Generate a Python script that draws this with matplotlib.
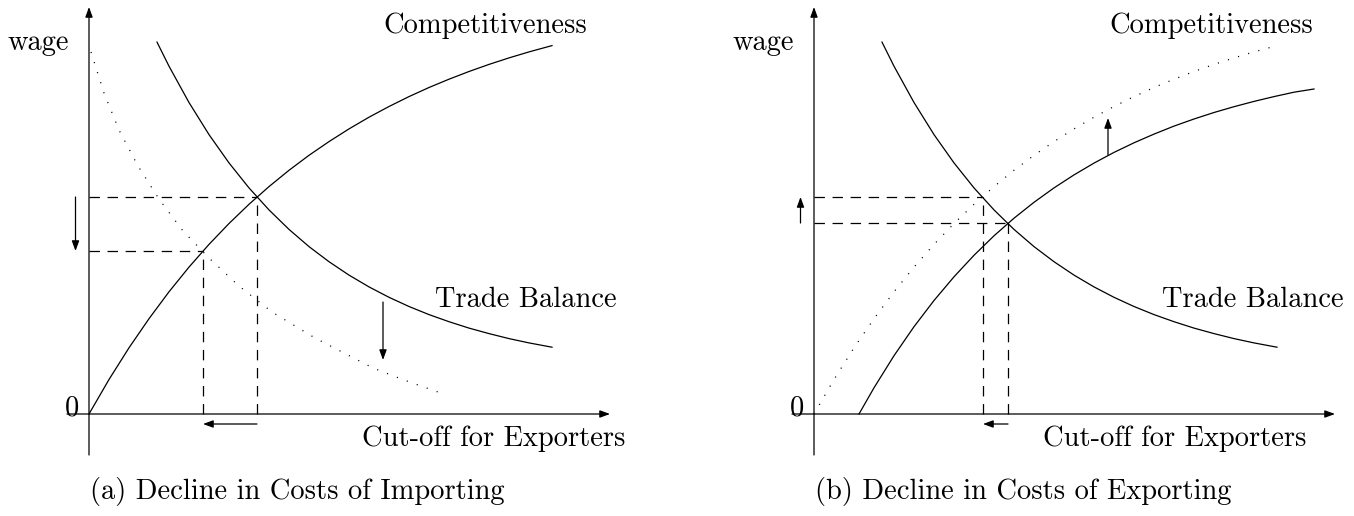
import matplotlib
matplotlib.use('Agg')
import matplotlib.pyplot as plt

plt.rcParams['font.family'] = ['cmr10', 'DejaVu Serif']
plt.rcParams['lines.scale_dashes'] = False

LW = 0.9
FS = 20.5
DASHED = (0, (7.5, 5.5))
DOTTED = (0, (0.8, 6.8))

# curves (units: axis origin = 0,0)
comp_x = [0, 0.2, 0.4, 0.6, 0.8, 1.0, 1.2, 1.4, 1.6, 1.8, 2.0, 2.2, 2.4,
          2.6, 2.8, 3.0, 3.2, 3.4, 3.6, 3.8, 4.0, 4.2, 4.4, 4.63]
comp_y = [0, 0.345, 0.662, 0.953, 1.222, 1.469, 1.696, 1.905, 2.097, 2.274,
          2.437, 2.587, 2.724, 2.851, 2.968, 3.075, 3.174, 3.265, 3.348,
          3.425, 3.496, 3.561, 3.621, 3.684]

tb_x = [0.68, 0.8, 1.0, 1.2, 1.4, 1.6, 1.8, 2.0, 2.2, 2.4, 2.6, 2.8, 3.0,
        3.2, 3.4, 3.6, 3.8, 4.0, 4.2, 4.4, 4.63]
tb_y = [3.719, 3.478, 3.115, 2.794, 2.511, 2.261, 2.041, 1.846, 1.674,
        1.523, 1.389, 1.271, 1.167, 1.075, 0.994, 0.923, 0.859, 0.804,
        0.754, 0.711, 0.668]

# panel (a): trade balance after the decline in importing costs
tb_new_x = [0.02, 0.15, 0.30, 0.49, 0.70, 0.94, 1.20, 1.50, 1.83, 2.26,
            2.84, 3.15, 3.49]
tb_new_y = [3.62, 3.21, 2.84, 2.48, 2.15, 1.83, 1.56, 1.28, 1.02, 0.76,
            0.46, 0.34, 0.22]

# panel (b): competitiveness before the decline in exporting costs
comp_old_x = [0.45, 0.6, 0.8, 1.0, 1.2, 1.4, 1.6, 1.8, 2.0, 2.2, 2.4, 2.6,
              2.8, 3.0, 3.2, 3.4, 3.6, 3.8, 4.0, 4.2, 4.4, 4.6, 4.8, 5.0]
comp_old_y = [0, 0.262, 0.583, 0.873, 1.135, 1.372, 1.587, 1.782, 1.958,
              2.117, 2.261, 2.391, 2.509, 2.616, 2.712, 2.799, 2.879,
              2.950, 3.015, 3.073, 3.126, 3.174, 3.218, 3.25]

# equilibria (cut-off, wage): before, after
eq_a = [(1.68, 2.17), (1.14, 1.63)]
eq_b = [(1.94, 1.91), (1.69, 2.17)]

# shift of the moving curve: x, from, to
shift_a = (2.94, 1.12, 0.54)
shift_b = (2.94, 2.59, 2.96)

captions = ['(a) Decline in Costs of Importing', '(b) Decline in Costs of Exporting']


def arrow(ax, tail, tip, head=0.6):
    ax.annotate('', xy=tip, xytext=tail,
                arrowprops=dict(arrowstyle='-|>,head_length=%g,head_width=0.22' % head,
                                mutation_scale=10, lw=LW, color='k',
                                shrinkA=0, shrinkB=0))


def panel(ax, eqs, shift, caption, label_x):
    ax.set_ylim(-1.02, 4.14)
    ax.axis('off')
    # axes
    arrow(ax, (-0.22, 0), (5.21, 0))
    arrow(ax, (0, -0.41), (0, 4.07))
    # guide lines to both equilibria
    for ex, ey in eqs:
        ax.plot([0, ex], [ey, ey], color='k', lw=LW, ls=DASHED)
        ax.plot([ex, ex], [0, ey], color='k', lw=LW, ls=DASHED)
    (x0, w0), (x1, w1) = eqs
    arrow(ax, (-0.135, w0), (-0.135, w1))
    arrow(ax, (x0, -0.10), (x1, -0.10))
    arrow(ax, (shift[0], shift[1]), (shift[0], shift[2]))

    txt = dict(fontsize=FS, color='k')
    ax.text(-0.20, 3.64, 'wage', ha='right', va='baseline', **txt)
    ax.text(-0.095, -0.01, '0', ha='right', va='baseline', **txt)
    ax.text(label_x[0], 3.81, 'Competitiveness', ha='left', va='baseline', **txt)
    ax.text(label_x[1], 1.07, 'Trade Balance', ha='left', va='baseline', **txt)
    ax.text(label_x[2], -0.325, 'Cut-off for Exporters', ha='left', va='baseline', **txt)
    ax.text(0.01, -0.85, caption, ha='left', va='baseline', **txt)


fig = plt.figure(figsize=(13.54, 5.16), dpi=100)
ax_a = fig.add_axes([0, 0, 0.5, 1])
ax_b = fig.add_axes([0.5, 0, 0.5, 1])
ax_a.set_xlim(-0.89, 5.88)
ax_b.set_xlim(-1.37, 5.40)

ax_a.plot(comp_x, comp_y, color='k', lw=LW)
ax_a.plot(tb_x, tb_y, color='k', lw=LW)
ax_a.plot(tb_new_x, tb_new_y, color='k', lw=LW, ls=DOTTED)
panel(ax_a, eq_a, shift_a, captions[0], (2.94, 3.46, 2.73))

ax_b.plot(comp_x, comp_y, color='k', lw=LW, ls=DOTTED)
ax_b.plot(comp_old_x, comp_old_y, color='k', lw=LW)
ax_b.plot(tb_x, tb_y, color='k', lw=LW)
panel(ax_b, eq_b, shift_b, captions[1], (2.95, 3.48, 2.29))

fig.savefig('out.png', dpi=100)
